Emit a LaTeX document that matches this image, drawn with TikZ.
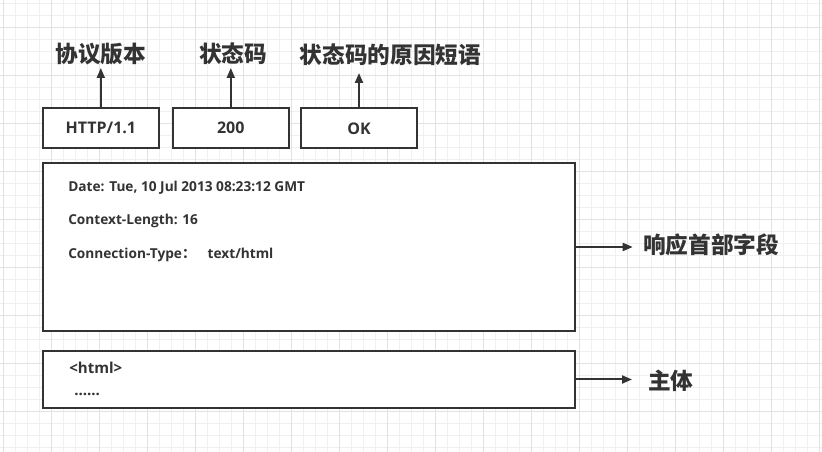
\documentclass[tikz,border=0pt]{standalone}
\usepackage{fontspec}
\setmainfont{Open Sans}
\newfontfamily\cjk{Noto Sans CJK SC}
\usetikzlibrary{arrows.meta}
\definecolor{ink}{HTML}{333333}
\definecolor{gridminor}{HTML}{F0F0F0}
\definecolor{gridmajor}{HTML}{E2E2E2}
\begin{document}
\begin{tikzpicture}[x=0.75pt,y=-0.75pt,
  box/.style={draw=ink,line width=1.5pt,fill=white,inner sep=0pt,minimum width=87pt,minimum height=30pt,
    text=ink,font=\fontsize{12}{14}\selectfont\bfseries},
  bigbox/.style={draw=ink,line width=1.5pt,fill=white,inner sep=0pt,minimum width=399pt},
  field/.style={anchor=west,inner sep=0pt,text=ink,font=\fontsize{10.25}{13}\selectfont\bfseries},
  label/.style={inner sep=0pt,text=ink,font=\cjk\fontsize{17}{20}\selectfont\bfseries},
  arr/.style={draw=ink,line width=1.5pt,-{Triangle[length=7.5pt,width=6pt]}}]
\useasboundingbox (0,0) rectangle (822,452);
\fill[white] (0,0) rectangle (822,452);
% grid
\foreach \i in {0,...,68} {\draw[gridminor,line width=0.75pt] (3.3+12*\i,0) -- (3.3+12*\i,452);}
\foreach \i in {0,...,37} {\draw[gridminor,line width=0.75pt] (0,3.7+12*\i) -- (822,3.7+12*\i);}
\foreach \i in {0,...,17} {\draw[gridmajor,line width=0.75pt] (3.3+48*\i,0) -- (3.3+48*\i,452);}
\foreach \i in {0,...,8} {\draw[gridmajor,line width=0.75pt] (0,27.7+48*\i) -- (822,27.7+48*\i);}
% top boxes
\node[box] (http) at (100.8,128) {HTTP/1.1};
\node[box] (code) at (230.8,128) {200};
\node[box] (ok) at (359,128.5) {OK};
% labels
\node[label] (lver) at (100.8,54) {协议版本};
\node[label] (lcode) at (233,54) {状态码};
\node[label] (lreason) at (390.5,55) {状态码的原因短语};
\coordinate (t1) at (100.8,68);
\coordinate (t2) at (230.8,68);
\coordinate (t3) at (359,73);
\draw[arr] (http.north) -- (t1);
\draw[arr] (code.north) -- (t2);
\draw[arr] (ok.north) -- (t3);
% header box
\node[bigbox,minimum height=126pt] (hdr) at (309,247) {};
\node[field] (f1) at (68,187.5) {Date: Tue, 10 Jul 2013 08:23:12 GMT};
\node[field] (f2) at (68,221) {Context-Length: 16};
\node[field] (f3) at (68,254.5) {Connection-Type{\cjk\bfseries ：}\hspace{9pt}text/html};
% body box
\node[bigbox,minimum height=42.75pt] (body) at (309,379.5) {};
\node[field,font=\fontsize{11.3}{13}\selectfont\bfseries] (b1) at (69,368) {<html>};
\node[field,anchor=base west,font=\fontsize{11.3}{13}\selectfont\bfseries] (b2) at (74,396) {......};
% right labels
\node[label,anchor=west] (lhdr) at (643,245) {响应首部字段};
\node[label,anchor=west] (lbody) at (648,381) {主体};
\coordinate (t4) at (632.7,247);
\coordinate (t5) at (632,379.5);
\draw[arr] (hdr.east) -- (t4);
\draw[arr] (body.east) -- (t5);
\end{tikzpicture}
\end{document}
